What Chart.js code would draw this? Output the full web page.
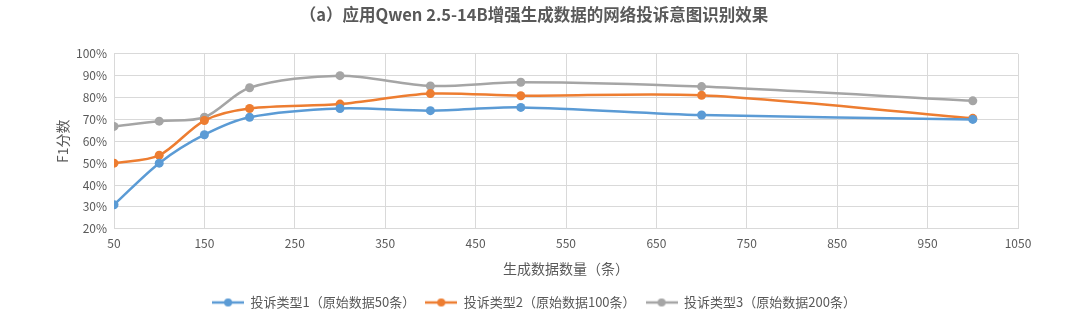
<!DOCTYPE html>
<html><head><meta charset="utf-8">
<script src="https://cdn.jsdelivr.net/npm/chart.js@4/dist/chart.umd.min.js"></script>
<style>html,body{margin:0;padding:0;background:#fff;}#wrap{width:1080px;height:319px;}</style>
</head><body><div id="wrap"><canvas id="c" width="1080" height="319"></canvas></div>
<script>
const xValues = [50, 100, 150, 200, 300, 400, 500, 700, 1000];
const type1 = [31, 50, 63, 71, 75, 74, 75.5, 72, 70];
const type2 = [50, 53.6, 69.5, 75, 77, 81.8, 80.8, 81, 70.5];
const type3 = [66.8, 69.2, 71, 84.5, 90, 85.3, 87, 85, 78.5];
const seriesNames = ['投诉类型1（原始数据50条）', '投诉类型2（原始数据100条）', '投诉类型3（原始数据200条）'];
const colors = ['#5B9BD5', '#ED7D31', '#A5A5A5'];
const titleText = '（a）应用Qwen 2.5-14B增强生成数据的网络投诉意图识别效果';
const xTitle = '生成数据数量（条）';
const yTitle = 'F1分数';

function legendIcon(color){
  const cv = document.createElement('canvas');
  cv.width = 32; cv.height = 10;
  const g = cv.getContext('2d');
  g.strokeStyle = color; g.lineWidth = 2.5;
  g.beginPath(); g.moveTo(0,5); g.lineTo(32,5); g.stroke();
  g.fillStyle = color; g.beginPath(); g.arc(16,5,4,0,Math.PI*2); g.fill();
  return cv;
}
const dataSets = [type1, type2, type3].map((arr, i) => ({
  label: seriesNames[i],
  data: arr.map((v, j) => ({x: xValues[j], y: v})),
  borderColor: colors[i],
  backgroundColor: colors[i],
  borderWidth: 2.5,
  pointRadius: 4.5,
  pointHoverRadius: 4.5,
  pointBorderWidth: 0,
  pointStyle: 'circle',
  tension: 0.3,
  fill: false
}));
const icons = colors.map(legendIcon);
const font = "'Noto Sans CJK SC', 'Noto Sans', sans-serif";
new Chart(document.getElementById('c'), {
  type: 'line',
  data: { datasets: dataSets },
  options: {
    responsive: false,
    animation: false,
    layout: { padding: { left: 50, right: 62, top: 3, bottom: 0 } },
    plugins: {
      title: { display: true, text: titleText, color: '#595959', font: { family: font, size: 16.5, weight: 'bold' }, padding: { top: 2, bottom: 29 } },
      legend: {
        position: 'bottom',
        labels: {
          color: '#595959', font: { family: font, size: 13 },
          usePointStyle: true, pointStyleWidth: 32, boxHeight: 10, padding: 10,
          generateLabels: (chart) => chart.data.datasets.map((d, i) => ({
            text: d.label, pointStyle: icons[i], fillStyle: colors[i], strokeStyle: colors[i], lineWidth: 0, datasetIndex: i, hidden: false, fontColor: '#595959'
          }))
        }
      },
      tooltip: { enabled: false }
    },
    scales: {
      x: {
        type: 'linear', min: 50, max: 1050,
        ticks: { stepSize: 100, color: '#595959', font: { family: font, size: 12 }, padding: 7, callback: v => String(v) },
        grid: { color: '#d9d9d9', drawTicks: false },
        border: { color: '#d9d9d9' },
        title: { display: true, text: xTitle, color: '#595959', font: { family: font, size: 14 }, padding: { top: 3, bottom: 9 } }
      },
      y: {
        min: 20, max: 100,
        ticks: { stepSize: 10, color: '#595959', font: { family: font, size: 12 }, padding: 7, callback: v => v + '%' },
        grid: { color: '#d9d9d9', drawTicks: false },
        border: { color: '#d9d9d9' },
        title: { display: true, text: yTitle, color: '#595959', font: { family: font, size: 14 }, padding: { bottom: 6 } },
        afterFit: s => { s.width = 64; }
      }
    }
  }
});
</script></body></html>
